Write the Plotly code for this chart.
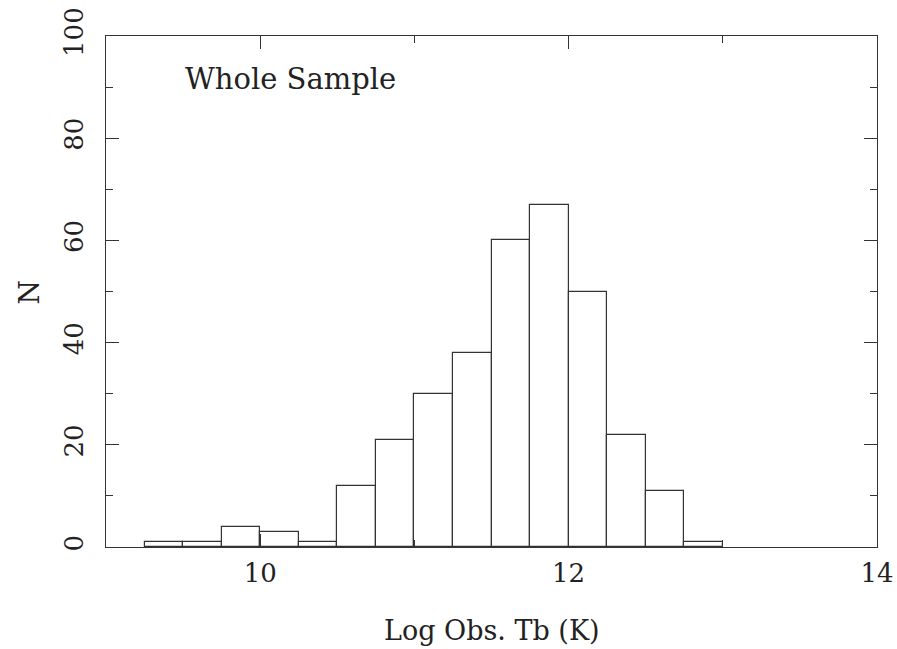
import plotly.graph_objects as go

bin_left = [9.25, 9.5, 9.75, 10.0, 10.25, 10.5, 10.75, 11.0, 11.25, 11.5, 11.75, 12.0, 12.25, 12.5, 12.75]
counts = [1, 1, 4, 3, 1, 12, 21, 30, 38, 60, 67, 50, 22, 11, 1]
bin_width = 0.25
x_ticks = [10, 12, 14]
y_ticks = [0, 20, 40, 60, 80, 100]

centers = [b + bin_width / 2 for b in bin_left]
FONT = "DejaVu Serif"
LC = "#333333"
TC = "#222222"

fig = go.Figure()
fig.add_trace(go.Bar(
    x=centers, y=counts, width=[bin_width] * len(counts),
    marker=dict(color="white", line=dict(color=LC, width=1.2)),
    showlegend=False,
))

fig.update_layout(
    width=897, height=649,
    margin=dict(l=106, r=20, t=36, b=102),
    plot_bgcolor="white", paper_bgcolor="white",
    font=dict(family=FONT, color=TC, size=26),
    bargap=0,
    xaxis=dict(
        range=[9, 14], tickvals=x_ticks, ticktext=[str(v) for v in x_ticks],
        ticks="inside", ticklen=13, tickwidth=1, tickcolor=LC,
        showline=True, linecolor=LC, linewidth=1.2, mirror="ticks",
        showgrid=False, zeroline=False, automargin=False,
        minor=dict(tickvals=[9, 11, 13], ticks="inside", ticklen=7, tickcolor=LC, showgrid=False),
        tickfont=dict(size=26), ticklabelstandoff=3,
    ),
    yaxis=dict(
        range=[0, 100], tickvals=y_ticks, ticktext=[str(v) for v in y_ticks],
        ticks="inside", ticklen=13, tickwidth=1, tickcolor=LC, tickangle=-90,
        showline=True, linecolor=LC, linewidth=1.2, mirror="ticks",
        showgrid=False, zeroline=False, automargin=False,
        minor=dict(dtick=10, ticks="inside", ticklen=7, tickcolor=LC, showgrid=False),
        tickfont=dict(size=26), ticklabelstandoff=12,
    ),
    annotations=[
        dict(x=9.5, y=91.5, xref="x", yref="y", text="Whole Sample", showarrow=False,
             xanchor="left", yanchor="middle", font=dict(size=29, family=FONT, color=TC)),
        dict(x=0.5, y=-0.198, xref="paper", yref="paper", text="Log Obs. Tb (K)", showarrow=False,
             xanchor="center", yanchor="bottom", font=dict(size=27, family=FONT, color=TC)),
        dict(x=-0.0986, y=0.5, xref="paper", yref="paper", text="N", showarrow=False, textangle=-90,
             xanchor="center", yanchor="middle", font=dict(size=28, family=FONT, color=TC)),
    ],
)

fig.write_html("out.html")
